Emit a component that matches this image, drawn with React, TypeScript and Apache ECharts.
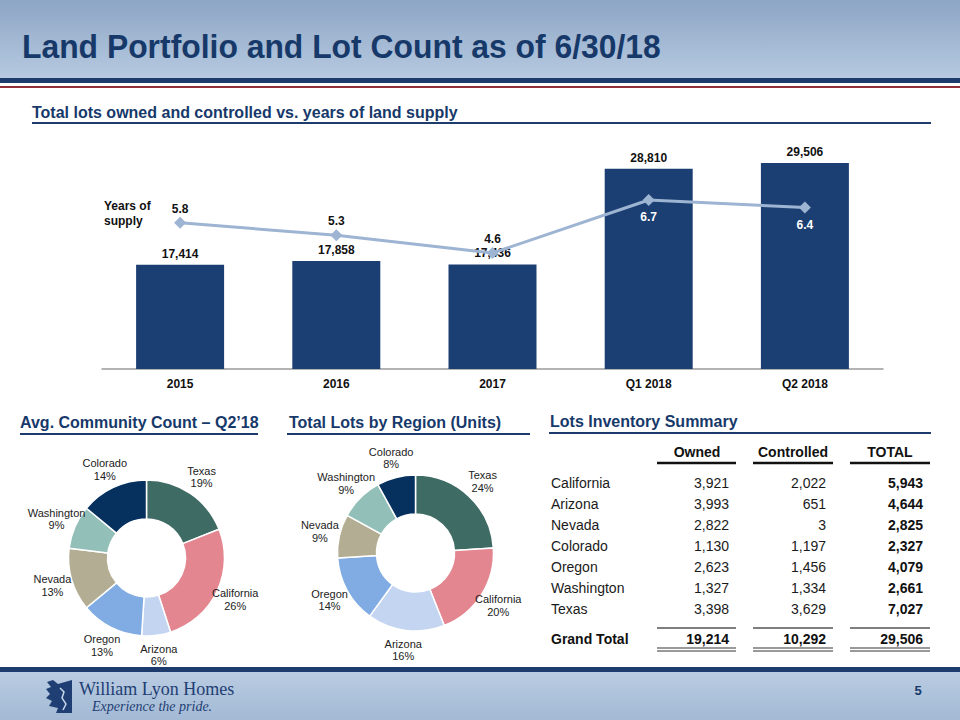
import React, { useEffect, useRef } from "react";
import * as echarts from "echarts";

const FONT = "Liberation Sans, Arial, Helvetica, sans-serif";
const NAVY = "#17396a";

// Bar + line chart
const categories = ["2015", "2016", "2017", "Q1 2018", "Q2 2018"];
const totalLots = [17414, 17858, 17436, 28810, 29506];
const yearsSupply = [5.8, 5.3, 4.6, 6.7, 6.4];

// Donuts
const pieRegions = ["Texas", "California", "Arizona", "Oregon", "Nevada", "Washington", "Colorado"];
const regionColors = ["#3e6b64", "#e38690", "#c3d5f1", "#80abe3", "#b3ad93", "#93bfb9", "#06315f"];
const communityPct = [19, 26, 6, 13, 13, 9, 14];
const lotsPct = [24, 20, 16, 14, 9, 9, 8];

// Table
const tableHeaders = ["Owned", "Controlled", "TOTAL"];
const tableRegions = ["California", "Arizona", "Nevada", "Colorado", "Oregon", "Washington", "Texas"];
const ownedLots = [3921, 3993, 2822, 1130, 2623, 1327, 3398];
const controlledLots = [2022, 651, 3, 1197, 1456, 1334, 3629];
const regionTotals = [5943, 4644, 2825, 2327, 4079, 2661, 7027];
const grandTotals = [19214, 10292, 29506];

const fmt = (v: number) => v.toLocaleString("en-US");

function pieLabelLayout(cx: number, cy: number, values: number[], R: number) {
  const total = values.reduce((a, b) => a + b, 0);
  return (params: any) => {
    const i = params.dataIndex;
    let cum = 0;
    for (let k = 0; k < i; k++) cum += values[k];
    const mid = ((cum + values[i] / 2) / total) * Math.PI * 2;
    return {
      x: cx + R * Math.sin(mid),
      y: cy - R * Math.cos(mid),
      align: "center",
      verticalAlign: "middle",
    };
  };
}

function makePie(cx: number, cy: number, values: number[]) {
  return {
    type: "pie",
    center: [cx, cy],
    radius: [39, 78],
    startAngle: 90,
    clockwise: true,
    silent: true,
    avoidLabelOverlap: false,
    itemStyle: { borderColor: "#ffffff", borderWidth: 1.5 },
    label: {
      show: true,
      position: "outside",
      formatter: "{b}\n{c}%",
      fontSize: 11,
      lineHeight: 12.5,
      color: "#222222",
      fontFamily: FONT,
    },
    labelLine: { show: false },
    labelLayout: pieLabelLayout(cx, cy, values, 98),
    data: pieRegions.map((r, i) => ({ name: r, value: values[i], itemStyle: { color: regionColors[i] } })),
  };
}

function text(x: number, y: number, t: string, opts: any = {}) {
  return {
    type: "text",
    x,
    y,
    scaleX: opts.scaleX || 1,
    silent: true,
    style: {
      text: t,
      fill: opts.fill || "#1a1a1a",
      fontSize: opts.fontSize || 14,
      fontWeight: opts.fontWeight || "normal",
      fontStyle: opts.fontStyle || "normal",
      fontFamily: opts.fontFamily || FONT,
      textAlign: opts.align || "left",
      textVerticalAlign: "middle",
    },
  };
}

function hline(x1: number, x2: number, y: number, stroke: string, w: number) {
  return { type: "line", silent: true, shape: { x1, y1: y, x2, y2: y }, style: { stroke, lineWidth: w } };
}

function buildGraphics() {
  const g: any[] = [];
  // Header band
  g.push({
    type: "rect",
    silent: true,
    shape: { x: 0, y: 0, width: 960, height: 78 },
    style: {
      fill: {
        type: "linear", x: 0, y: 0, x2: 0, y2: 1,
        colorStops: [{ offset: 0, color: "#8da6c5" }, { offset: 1, color: "#b6c9e0" }],
      },
    },
  });
  g.push({ type: "rect", silent: true, shape: { x: 0, y: 78, width: 960, height: 5 }, style: { fill: "#1d3c6d" } });
  g.push({ type: "rect", silent: true, shape: { x: 0, y: 86, width: 960, height: 2 }, style: { fill: "#8e2f3a" } });
  g.push(text(22, 46, "Land Portfolio and Lot Count as of 6/30/18", { fontSize: 34, fontWeight: "bold", fill: NAVY, scaleX: 0.937 }));

  // Subtitle
  g.push(text(32, 112, "Total lots owned and controlled vs. years of land supply", { fontSize: 16, fontWeight: "bold", fill: NAVY }));
  g.push(hline(32, 931, 123, "#1d3c6d", 2));
  g.push(text(104, 206, "Years of", { fontSize: 12, fontWeight: "bold", fill: "#111" }));
  g.push(text(104, 221, "supply", { fontSize: 12, fontWeight: "bold", fill: "#111" }));

  // Section headers
  g.push(text(20, 422, "Avg. Community Count \u2013 Q2\u201918", { fontSize: 16, fontWeight: "bold", fill: NAVY }));
  g.push(hline(20, 258, 434, "#1d3c6d", 2));
  g.push(text(289, 422, "Total Lots by Region (Units)", { fontSize: 16, fontWeight: "bold", fill: NAVY }));
  g.push(hline(287, 530, 434, "#1d3c6d", 2));
  g.push(text(550, 421, "Lots Inventory Summary", { fontSize: 16, fontWeight: "bold", fill: NAVY }));
  g.push(hline(549, 931, 433, "#1d3c6d", 2));

  // Table
  const colCenters = [697, 793, 890];
  const colRight = [729, 826, 923];
  const colSpan = [[657, 736], [753, 833], [850, 930]];
  tableHeaders.forEach((h, c) => {
    g.push(text(colCenters[c], 452, h, { fontSize: 14, fontWeight: "bold", align: "center", fill: "#111" }));
    g.push(hline(colSpan[c][0], colSpan[c][1], 463, "#111", 2.5));
  });
  tableRegions.forEach((r, i) => {
    const y = 482.5 + i * 21.1;
    g.push(text(551, y, r, { fontSize: 14, fill: "#1a1a1a" }));
    g.push(text(colRight[0], y, fmt(ownedLots[i]), { fontSize: 14, align: "right", fill: "#1a1a1a" }));
    g.push(text(colRight[1], y, fmt(controlledLots[i]), { fontSize: 14, align: "right", fill: "#1a1a1a" }));
    g.push(text(colRight[2], y, fmt(regionTotals[i]), { fontSize: 14, fontWeight: "bold", align: "right", fill: "#111" }));
  });
  g.push(text(551, 639, "Grand Total", { fontSize: 14, fontWeight: "bold", fill: "#111" }));
  grandTotals.forEach((v, c) => {
    g.push(text(colRight[c], 639, fmt(v), { fontSize: 14, fontWeight: "bold", align: "right", fill: "#111" }));
    g.push(hline(colSpan[c][0], colSpan[c][1], 628, "#555", 1.5));
    g.push(hline(colSpan[c][0], colSpan[c][1], 648, "#777", 1.5));
    g.push(hline(colSpan[c][0], colSpan[c][1], 651, "#777", 1.5));
  });

  // Footer
  g.push({ type: "rect", silent: true, shape: { x: 0, y: 667, width: 960, height: 5 }, style: { fill: "#1d3c6d" } });
  g.push({
    type: "rect",
    silent: true,
    shape: { x: 0, y: 672, width: 960, height: 48 },
    style: {
      fill: {
        type: "linear", x: 0, y: 0, x2: 0, y2: 1,
        colorStops: [{ offset: 0, color: "#b9cce2" }, { offset: 1, color: "#a3b9d4" }],
      },
    },
  });
  // emblem (stylised lion)
  g.push({
    type: "polygon",
    silent: true,
    shape: {
      points: [[53, 680], [58, 684], [72, 680], [72, 713], [56, 713], [58, 708], [49, 706], [52, 701], [46, 698], [50, 694], [46, 689], [51, 687], [47, 682]],
    },
    style: { fill: "#1f3f74" },
  });
  g.push({
    type: "polyline",
    silent: true,
    shape: { points: [[60, 688], [64, 692], [62, 698], [66, 704], [63, 710]] },
    style: { stroke: "#c7d6e8", lineWidth: 1.5, fill: null },
  });
  g.push(text(79, 689, "William Lyon Homes", { fontSize: 18, fill: "#1f3f74", fontFamily: "Liberation Serif, Times New Roman, serif" }));
  g.push(text(92, 706, "Experience the pride.", { fontSize: 14, fontStyle: "italic", fill: "#1f3f74", fontFamily: "Liberation Serif, Times New Roman, serif" }));
  g.push(text(918, 690, "5", { fontSize: 13, fontWeight: "bold", fill: NAVY, align: "center" }));
  return g;
}

export default function App() {
  const ref = useRef<HTMLDivElement>(null);
  useEffect(() => {
    if (!ref.current) return;
    const chart = echarts.init(ref.current, undefined, { renderer: "svg" });
    const option: any = {
      animation: false,
      backgroundColor: "#ffffff",
      textStyle: { fontFamily: FONT },
      grid: [{ left: 102, right: 77, top: 142, bottom: 351, containLabel: false }],
      xAxis: [
        {
          type: "category",
          gridIndex: 0,
          data: categories,
          axisLine: { show: true, lineStyle: { color: "#9a9a9a", width: 1.5 } },
          axisTick: { show: false },
          axisLabel: { color: "#111", fontWeight: "bold", fontSize: 12, margin: 9, fontFamily: FONT },
        },
      ],
      yAxis: [
        { type: "value", gridIndex: 0, min: 5000, max: 32000, show: false, splitLine: { show: false } },
        { type: "value", gridIndex: 0, min: 0, max: 9, show: false, splitLine: { show: false } },
      ],
      series: [
        {
          type: "bar",
          xAxisIndex: 0,
          yAxisIndex: 0,
          data: totalLots,
          barWidth: 88,
          silent: true,
          itemStyle: { color: "#1c3f73" },
          label: {
            show: true,
            position: "top",
            distance: 5,
            formatter: (p: any) => fmt(p.value),
            color: "#111",
            fontWeight: "bold",
            fontSize: 12,
            fontFamily: FONT,
          },
          z: 2,
        },
        {
          type: "line",
          xAxisIndex: 0,
          yAxisIndex: 1,
          silent: true,
          data: yearsSupply.map((v, i) =>
            i >= 3
              ? { value: v, label: { position: "bottom", distance: 5, color: "#ffffff" } }
              : { value: v }
          ),
          symbol: "diamond",
          symbolSize: 12,
          lineStyle: { color: "#9db4d2", width: 3 },
          itemStyle: { color: "#9db4d2" },
          label: {
            show: true,
            position: "top",
            distance: 2,
            formatter: (p: any) => Number(p.value).toFixed(1),
            color: "#111",
            fontWeight: "bold",
            fontSize: 12,
            fontFamily: FONT,
          },
          z: 3,
        },
        makePie(146.5, 558, communityPct),
        makePie(415.5, 553, lotsPct),
      ],
      graphic: { elements: buildGraphics() },
    };
    chart.setOption(option);
    return () => chart.dispose();
  }, []);
  return (
    <div
      ref={ref}
      style={{ position: "absolute", left: 0, top: 0, width: 960, height: 720, background: "#fff" }}
    />
  );
}
